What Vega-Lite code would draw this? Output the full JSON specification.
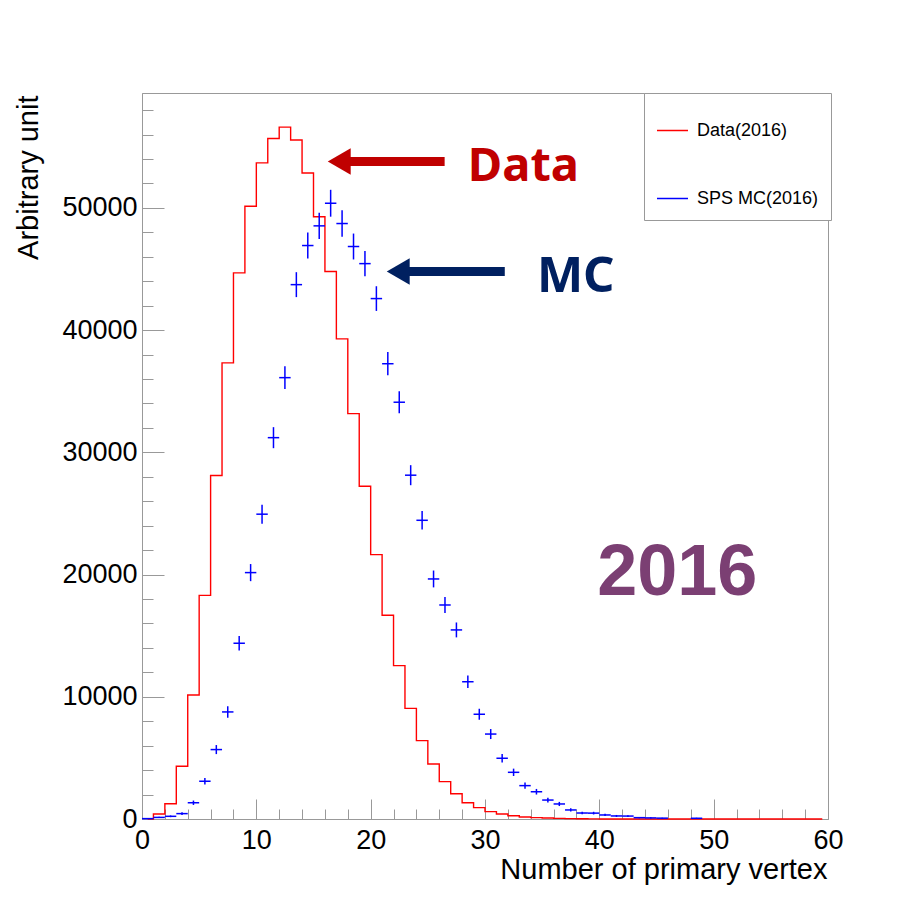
{
  "$schema": "https://vega.github.io/schema/vega-lite/v6.json",
  "autosize": "none",
  "width": 686,
  "height": 726,
  "padding": {"left": 142, "top": 93, "right": 90, "bottom": 94},
  "background": "white",
  "config": {
    "view": {"stroke": "#999", "strokeWidth": 1},
    "font": "Liberation Sans"
  },
  "resolve": {"axis": {"x": "independent", "y": "independent"}},
  "datasets": {
    "data2016": [
      {"center": 0.5, "value": 0}, {"center": 1.5, "value": 410}, {"center": 2.5, "value": 1250}, {"center": 3.5, "value": 4310},
      {"center": 4.5, "value": 10150}, {"center": 5.5, "value": 18300}, {"center": 6.5, "value": 28100}, {"center": 7.5, "value": 37320},
      {"center": 8.5, "value": 44680}, {"center": 9.5, "value": 50140}, {"center": 10.5, "value": 53680}, {"center": 11.5, "value": 55680},
      {"center": 12.5, "value": 56610}, {"center": 13.5, "value": 55550}, {"center": 14.5, "value": 52850}, {"center": 15.5, "value": 49270},
      {"center": 16.5, "value": 44790}, {"center": 17.5, "value": 39280}, {"center": 18.5, "value": 33170}, {"center": 19.5, "value": 27230},
      {"center": 20.5, "value": 21630}, {"center": 21.5, "value": 16670}, {"center": 22.5, "value": 12550}, {"center": 23.5, "value": 9050},
      {"center": 24.5, "value": 6410}, {"center": 25.5, "value": 4500}, {"center": 26.5, "value": 3060}, {"center": 27.5, "value": 2070},
      {"center": 28.5, "value": 1330}, {"center": 29.5, "value": 930}, {"center": 30.5, "value": 600}, {"center": 31.5, "value": 410},
      {"center": 32.5, "value": 270}, {"center": 33.5, "value": 160}, {"center": 34.5, "value": 110}, {"center": 35.5, "value": 80},
      {"center": 36.5, "value": 50}, {"center": 37.5, "value": 30}, {"center": 38.5, "value": 20}, {"center": 39.5, "value": 10},
      {"center": 40.5, "value": 5}, {"center": 41.5, "value": 0}, {"center": 42.5, "value": 0}, {"center": 43.5, "value": 0},
      {"center": 44.5, "value": 0}, {"center": 45.5, "value": 0}, {"center": 46.5, "value": 0}, {"center": 47.5, "value": 0},
      {"center": 48.5, "value": 0}, {"center": 49.5, "value": 0}, {"center": 50.5, "value": 0}, {"center": 51.5, "value": 0},
      {"center": 52.5, "value": 0}, {"center": 53.5, "value": 0}, {"center": 54.5, "value": 0}, {"center": 55.5, "value": 0},
      {"center": 56.5, "value": 0}, {"center": 57.5, "value": 0}, {"center": 58.5, "value": 0}, {"center": 59.5, "value": 0}
    ],
    "mc2016": [
      {"bin_lo": 0, "bin_hi": 1, "center": 0.5, "value": 30, "err": 20},
      {"bin_lo": 1, "bin_hi": 2, "center": 1.5, "value": 130, "err": 50},
      {"bin_lo": 2, "bin_hi": 3, "center": 2.5, "value": 220, "err": 70},
      {"bin_lo": 3, "bin_hi": 4, "center": 3.5, "value": 440, "err": 110},
      {"bin_lo": 4, "bin_hi": 5, "center": 4.5, "value": 1330, "err": 180},
      {"bin_lo": 5, "bin_hi": 6, "center": 5.5, "value": 3090, "err": 270},
      {"bin_lo": 6, "bin_hi": 7, "center": 6.5, "value": 5680, "err": 370},
      {"bin_lo": 7, "bin_hi": 8, "center": 7.5, "value": 8760, "err": 470},
      {"bin_lo": 8, "bin_hi": 9, "center": 8.5, "value": 14380, "err": 590},
      {"bin_lo": 9, "bin_hi": 10, "center": 9.5, "value": 20160, "err": 700},
      {"bin_lo": 10, "bin_hi": 11, "center": 10.5, "value": 24940, "err": 780},
      {"bin_lo": 11, "bin_hi": 12, "center": 11.5, "value": 31200, "err": 860},
      {"bin_lo": 12, "bin_hi": 13, "center": 12.5, "value": 36110, "err": 930},
      {"bin_lo": 13, "bin_hi": 14, "center": 13.5, "value": 43720, "err": 1020},
      {"bin_lo": 14, "bin_hi": 15, "center": 14.5, "value": 46920, "err": 1060},
      {"bin_lo": 15, "bin_hi": 16, "center": 15.5, "value": 48530, "err": 1080},
      {"bin_lo": 16, "bin_hi": 17, "center": 16.5, "value": 50380, "err": 1100},
      {"bin_lo": 17, "bin_hi": 18, "center": 17.5, "value": 48720, "err": 1080},
      {"bin_lo": 18, "bin_hi": 19, "center": 18.5, "value": 46840, "err": 1060},
      {"bin_lo": 19, "bin_hi": 20, "center": 19.5, "value": 45440, "err": 1040},
      {"bin_lo": 20, "bin_hi": 21, "center": 20.5, "value": 42580, "err": 1010},
      {"bin_lo": 21, "bin_hi": 22, "center": 21.5, "value": 37250, "err": 950},
      {"bin_lo": 22, "bin_hi": 23, "center": 22.5, "value": 34100, "err": 900},
      {"bin_lo": 23, "bin_hi": 24, "center": 23.5, "value": 28130, "err": 820},
      {"bin_lo": 24, "bin_hi": 25, "center": 24.5, "value": 24440, "err": 760},
      {"bin_lo": 25, "bin_hi": 26, "center": 25.5, "value": 19640, "err": 690},
      {"bin_lo": 26, "bin_hi": 27, "center": 26.5, "value": 17510, "err": 650},
      {"bin_lo": 27, "bin_hi": 28, "center": 27.5, "value": 15470, "err": 610},
      {"bin_lo": 28, "bin_hi": 29, "center": 28.5, "value": 11230, "err": 520},
      {"bin_lo": 29, "bin_hi": 30, "center": 29.5, "value": 8570, "err": 450},
      {"bin_lo": 30, "bin_hi": 31, "center": 30.5, "value": 6950, "err": 410},
      {"bin_lo": 31, "bin_hi": 32, "center": 31.5, "value": 4970, "err": 350},
      {"bin_lo": 32, "bin_hi": 33, "center": 32.5, "value": 3820, "err": 300},
      {"bin_lo": 33, "bin_hi": 34, "center": 33.5, "value": 2730, "err": 260},
      {"bin_lo": 34, "bin_hi": 35, "center": 34.5, "value": 2230, "err": 230},
      {"bin_lo": 35, "bin_hi": 36, "center": 35.5, "value": 1550, "err": 190},
      {"bin_lo": 36, "bin_hi": 37, "center": 36.5, "value": 1230, "err": 170},
      {"bin_lo": 37, "bin_hi": 38, "center": 37.5, "value": 740, "err": 130},
      {"bin_lo": 38, "bin_hi": 39, "center": 38.5, "value": 490, "err": 110},
      {"bin_lo": 39, "bin_hi": 40, "center": 39.5, "value": 480, "err": 110},
      {"bin_lo": 40, "bin_hi": 41, "center": 40.5, "value": 330, "err": 90},
      {"bin_lo": 41, "bin_hi": 42, "center": 41.5, "value": 250, "err": 80},
      {"bin_lo": 42, "bin_hi": 43, "center": 42.5, "value": 240, "err": 75},
      {"bin_lo": 43, "bin_hi": 44, "center": 43.5, "value": 110, "err": 50},
      {"bin_lo": 44, "bin_hi": 45, "center": 44.5, "value": 90, "err": 45},
      {"bin_lo": 45, "bin_hi": 46, "center": 45.5, "value": 70, "err": 40},
      {"bin_lo": 48, "bin_hi": 49, "center": 48.5, "value": 60, "err": 40}
    ]
  },
  "layer": [
    {
      "data": {"name": "data2016"},
      "mark": {"type": "line", "interpolate": "step", "strokeWidth": 1.4},
      "encoding": {
        "x": {
          "field": "center", "type": "quantitative",
          "scale": {"domain": [0, 60], "nice": false, "zero": false},
          "axis": {
            "orient": "bottom",
            "title": "Number of primary vertex",
            "values": [0, 10, 20, 30, 40, 50, 60],
            "format": "d",
            "tickSize": -20,
            "tickColor": "#999", "domainColor": "#999", "grid": false,
            "labelFontSize": 27, "labelFont": "Liberation Sans", "labelColor": "black",
            "labelPadding": 28, "labelFlush": false, "labelOverlap": false,
            "titleFontSize": 29, "titleFont": "Liberation Sans", "titleFontWeight": "normal", "titleColor": "black",
            "titleAnchor": "end", "titleAlign": "right", "titleBaseline": "alphabetic", "titleX": 685, "titleY": 59
          }
        },
        "y": {
          "field": "value", "type": "quantitative",
          "scale": {"domain": [0, 59400], "nice": false},
          "axis": {
            "orient": "left",
            "title": "Arbitrary unit",
            "values": [0, 10000, 20000, 30000, 40000, 50000],
            "format": "d",
            "tickSize": -22,
            "tickColor": "#999", "domainColor": "#999", "grid": false,
            "labelFontSize": 27, "labelFont": "Liberation Sans", "labelColor": "black",
            "labelPadding": 27, "labelFlush": false, "labelOverlap": false,
            "titleFontSize": 29, "titleFont": "Liberation Sans", "titleFontWeight": "normal", "titleColor": "black",
            "titleAnchor": "end", "titleAlign": "right", "titleAngle": -90, "titleBaseline": "alphabetic", "titleX": -105, "titleY": 2
          }
        },
        "color": {
          "datum": "Data(2016)",
          "scale": {"domain": ["Data(2016)", "SPS MC(2016)"], "range": ["#ff0000", "#0000ff"]},
          "legend": {
            "orient": "none", "legendX": 502, "legendY": 0,
            "title": " ", "titleFontSize": 1, "titlePadding": 8,
            "strokeColor": "#999", "fillColor": "white", "padding": 12, "rowPadding": 42,
            "symbolType": "stroke", "symbolSize": 961, "symbolStrokeWidth": 1.5,
            "labelFontSize": 18, "labelFont": "Liberation Sans", "labelColor": "black", "labelOffset": 8
          }
        }
      }
    },
    {
      "data": {"name": "mc2016"},
      "mark": {"type": "rule", "strokeWidth": 1.5},
      "encoding": {
        "x": {
          "field": "bin_lo", "type": "quantitative",
          "scale": {"domain": [0, 60], "nice": false, "zero": false},
          "axis": {
            "orient": "bottom", "title": null, "labels": false, "domain": false, "grid": false,
            "values": [2, 4, 6, 8, 12, 14, 16, 18, 22, 24, 26, 28, 32, 34, 36, 38, 42, 44, 46, 48, 52, 54, 56, 58],
            "tickSize": -10, "tickColor": "#999"
          }
        },
        "x2": {"field": "bin_hi"},
        "y": {
          "field": "value", "type": "quantitative",
          "scale": {"domain": [0, 59400], "nice": false},
          "axis": {
            "orient": "left", "title": null, "labels": false, "domain": false, "grid": false,
            "values": [2000, 4000, 6000, 8000, 12000, 14000, 16000, 18000, 22000, 24000, 26000, 28000, 32000, 34000, 36000, 38000, 42000, 44000, 46000, 48000, 52000, 54000, 56000, 58000],
            "tickSize": -11, "tickColor": "#999"
          }
        },
        "color": {"datum": "SPS MC(2016)"}
      }
    },
    {
      "data": {"name": "mc2016"},
      "mark": {"type": "errorbar", "color": "#0000ff", "thickness": 1.5},
      "encoding": {
        "x": {"field": "center", "type": "quantitative", "scale": {"domain": [0, 60], "nice": false, "zero": false}, "axis": null},
        "y": {"field": "value", "type": "quantitative", "scale": {"domain": [0, 59400], "nice": false}, "axis": null},
        "yError": {"field": "err"}
      }
    },
    {
      "data": {"values": [{}]},
      "mark": {"type": "rule", "strokeWidth": 9, "color": "#C00000", "strokeCap": "butt"},
      "encoding": {
        "x": {"datum": 17.6, "type": "quantitative", "axis": null},
        "x2": {"datum": 26.47},
        "y": {"datum": 53790, "type": "quantitative", "axis": null}
      }
    },
    {
      "data": {"values": [{}]},
      "mark": {"type": "point", "shape": "triangle-left", "size": 700, "filled": true, "opacity": 1, "color": "#C00000", "strokeWidth": 0},
      "encoding": {
        "x": {"datum": 17.25, "type": "quantitative", "axis": null},
        "y": {"datum": 53790, "type": "quantitative", "axis": null}
      }
    },
    {
      "data": {"values": [{}]},
      "mark": {"type": "rule", "strokeWidth": 9, "color": "#002060", "strokeCap": "butt"},
      "encoding": {
        "x": {"datum": 22.7, "type": "quantitative", "axis": null},
        "x2": {"datum": 31.73},
        "y": {"datum": 44790, "type": "quantitative", "axis": null}
      }
    },
    {
      "data": {"values": [{}]},
      "mark": {"type": "point", "shape": "triangle-left", "size": 700, "filled": true, "opacity": 1, "color": "#002060", "strokeWidth": 0},
      "encoding": {
        "x": {"datum": 22.41, "type": "quantitative", "axis": null},
        "y": {"datum": 44790, "type": "quantitative", "axis": null}
      }
    },
    {
      "data": {"values": [{}]},
      "mark": {"type": "text", "text": "Data", "align": "left", "baseline": "alphabetic", "font": "Noto Sans", "fontSize": 47, "fontWeight": "bold", "color": "#C00000"},
      "encoding": {
        "x": {"datum": 28.5, "type": "quantitative", "axis": null},
        "y": {"datum": 52230, "type": "quantitative", "axis": null}
      }
    },
    {
      "data": {"values": [{}]},
      "mark": {"type": "text", "text": "MC", "align": "left", "baseline": "alphabetic", "font": "Noto Sans", "fontSize": 49, "fontWeight": "bold", "color": "#002060"},
      "encoding": {
        "x": {"datum": 34.54, "type": "quantitative", "axis": null},
        "y": {"datum": 43150, "type": "quantitative", "axis": null}
      }
    },
    {
      "data": {"values": [{}]},
      "mark": {"type": "text", "text": "2016", "align": "center", "baseline": "alphabetic", "font": "Liberation Sans", "fontSize": 72, "fontWeight": "bold", "color": "#7B3F73"},
      "encoding": {
        "x": {"datum": 46.82, "type": "quantitative", "axis": null},
        "y": {"datum": 18355, "type": "quantitative", "axis": null}
      }
    }
  ]
}
